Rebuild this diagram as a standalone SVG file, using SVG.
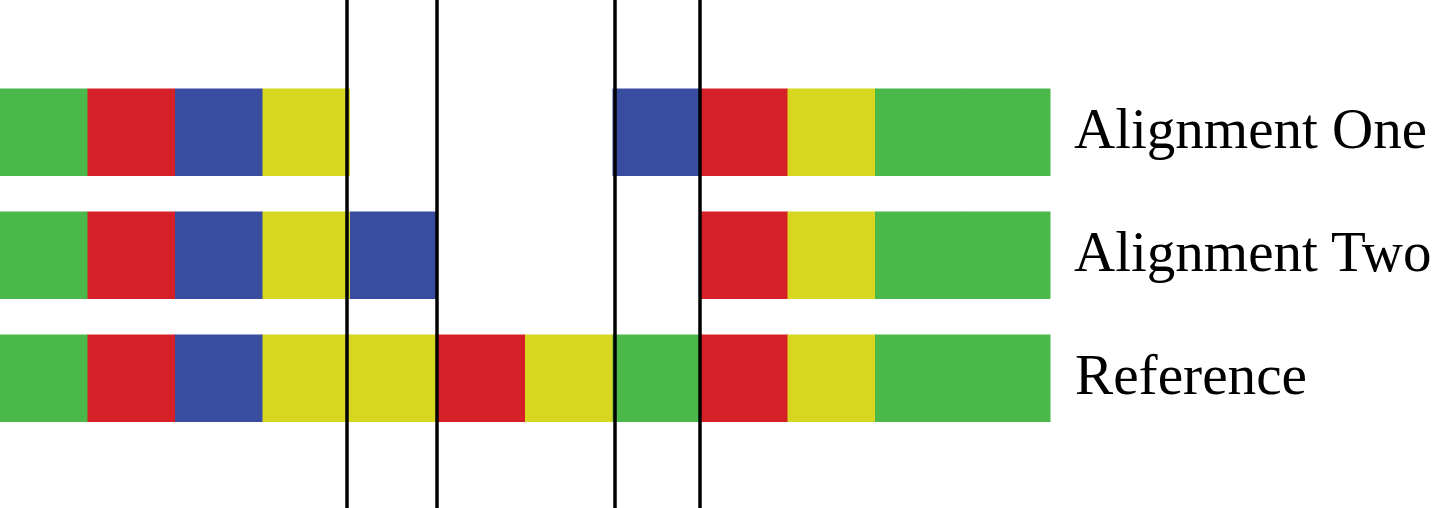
<svg xmlns="http://www.w3.org/2000/svg" width="1441" height="508" viewBox="0 0 1441 508">
<style>
.g{fill:#4bb84a}.r{fill:#d62028}.b{fill:#384ca0}.y{fill:#d7d722}
.lbl{font-family:"Liberation Serif",serif;font-size:57px;fill:#000}
.vl{stroke:#000;stroke-width:3.5}
</style>
<rect width="1441" height="508" fill="#fff"/>
<g id="row-alignment-one">
<rect class="g" x="0" y="88.5" width="88" height="87.5"/>
<rect class="r" x="87.5" y="88.5" width="88" height="87.5"/>
<rect class="b" x="175" y="88.5" width="88" height="87.5"/>
<rect class="y" x="262.5" y="88.5" width="87.5" height="87.5"/>
<rect class="b" x="612.5" y="88.5" width="88" height="87.5"/>
<rect class="r" x="700" y="88.5" width="88" height="87.5"/>
<rect class="y" x="787.5" y="88.5" width="88" height="87.5"/>
<rect class="g" x="875" y="88.5" width="88" height="87.5"/>
<rect class="g" x="962.5" y="88.5" width="88" height="87.5"/>
<text class="lbl" x="1074" y="148">Alignment One</text>
</g>
<g id="row-alignment-two">
<rect class="g" x="0" y="211.5" width="88" height="87.5"/>
<rect class="r" x="87.5" y="211.5" width="88" height="87.5"/>
<rect class="b" x="175" y="211.5" width="88" height="87.5"/>
<rect class="y" x="262.5" y="211.5" width="88" height="87.5"/>
<rect class="b" x="350" y="211.5" width="87.5" height="87.5"/>
<rect class="r" x="700" y="211.5" width="88" height="87.5"/>
<rect class="y" x="787.5" y="211.5" width="88" height="87.5"/>
<rect class="g" x="875" y="211.5" width="88" height="87.5"/>
<rect class="g" x="962.5" y="211.5" width="88" height="87.5"/>
<text class="lbl" x="1074" y="271">Alignment Two</text>
</g>
<g id="row-reference">
<rect class="g" x="0" y="334.5" width="88" height="87.5"/>
<rect class="r" x="87.5" y="334.5" width="88" height="87.5"/>
<rect class="b" x="175" y="334.5" width="88" height="87.5"/>
<rect class="y" x="262.5" y="334.5" width="88" height="87.5"/>
<rect class="y" x="350" y="334.5" width="88" height="87.5"/>
<rect class="r" x="437.5" y="334.5" width="88" height="87.5"/>
<rect class="y" x="525" y="334.5" width="88" height="87.5"/>
<rect class="g" x="612.5" y="334.5" width="88" height="87.5"/>
<rect class="r" x="700" y="334.5" width="88" height="87.5"/>
<rect class="y" x="787.5" y="334.5" width="88" height="87.5"/>
<rect class="g" x="875" y="334.5" width="88" height="87.5"/>
<rect class="g" x="962.5" y="334.5" width="88" height="87.5"/>
<text class="lbl" x="1075" y="394" textLength="232" lengthAdjust="spacingAndGlyphs">Reference</text>
</g>
<g id="connectors">
<line class="vl" x1="347" y1="0" x2="347" y2="508"/>
<line class="vl" x1="437" y1="0" x2="437" y2="508"/>
<line class="vl" x1="615" y1="0" x2="615" y2="508"/>
<line class="vl" x1="700" y1="0" x2="700" y2="508"/>
</g>
</svg>
